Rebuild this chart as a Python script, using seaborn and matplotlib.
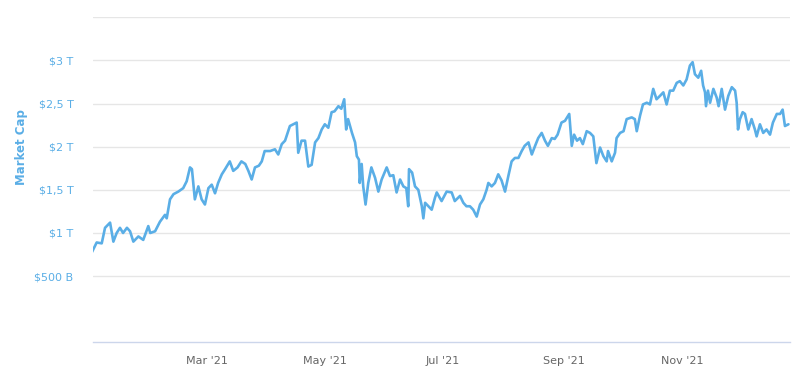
import pandas as pd
import seaborn as sns
import matplotlib.pyplot as plt
import matplotlib.dates as mdates

# Datos (días desde el 1 ene 2021, capitalización en billones USD)
dias = [0, 2.4, 5, 6.7, 9.3, 11, 12.7, 14.4, 16, 18, 19.6, 21.3, 23.9, 26.4, 29, 30,
        32.5, 35, 37.6, 38.5, 40.2, 42, 44.5, 47, 48.8, 50.5, 51.5, 53, 54.8, 56.5,
        58.2, 60, 61.7, 63.4, 65, 66.9, 68.6, 71, 72.8, 75, 77, 79, 80.6, 82.3, 84,
        86, 87.5, 89, 91.8, 94.3, 96, 97.8, 99.5, 102, 103.8, 105.5, 106.3, 108,
        109.8, 111.5, 113.2, 115, 116.7, 118.4, 120, 121.8, 123.5, 125, 127, 128.5,
        130, 131, 132, 134, 135.6, 136.5, 137.6, 138, 139, 139.8, 141, 142.4, 144,
        145.9, 147.6, 149.3, 151.9, 153.6, 155.3, 157, 158.8, 160.5, 162, 163, 163.4,
        165, 166.5, 168.2, 170, 170.8, 171.7, 173.4, 175.1, 176.8, 177.7, 180.2,
        182.8, 185.4, 187, 189.7, 191.4, 193, 194.8, 196.5, 198.3, 200, 201.7, 203.4,
        204.3, 206, 207.7, 209.4, 211.1, 212.9, 214.6, 216.3, 218, 219.8, 221.5, 223,
        225, 226.7, 228.4, 230, 231.8, 233.5, 235, 237, 238.5, 240, 242, 243.8, 246,
        247.3, 248.5, 250, 251.5, 253, 255, 256.7, 258.4, 260, 261.9, 263.6, 265.3,
        266, 267.9, 269.6, 270.4, 272.2, 274, 275.6, 278.2, 279.8, 280.8, 282.5, 284,
        286, 287.6, 289.3, 291, 292.8, 294.5, 296.2, 297.9, 299.6, 301.4, 303, 304.8,
        306.5, 308.2, 309.6, 310.8, 312.5, 314, 315, 316, 316.5, 317.5, 318.6, 320.3,
        322, 323, 324.6, 326.3, 328, 329.8, 331.5, 332.3, 333, 334, 335.4, 336.6,
        338.3, 340, 341.7, 342.6, 344.3, 346, 347.7, 349.5, 351, 353, 354.7, 356,
        357.2, 359]
market_cap = [0.78, 0.89, 0.88, 1.06, 1.12, 0.90, 1.00, 1.06, 1.00, 1.06, 1.02, 0.90,
              0.96, 0.92, 1.08, 1.00, 1.02, 1.13, 1.21, 1.17, 1.39, 1.45, 1.48, 1.52,
              1.60, 1.76, 1.74, 1.39, 1.54, 1.39, 1.33, 1.52, 1.56, 1.46, 1.58, 1.68,
              1.74, 1.83, 1.72, 1.76, 1.83, 1.80, 1.72, 1.62, 1.76, 1.78, 1.83, 1.95,
              1.95, 1.97, 1.91, 2.03, 2.07, 2.24, 2.26, 2.28, 1.93, 2.07, 2.07, 1.77,
              1.79, 2.05, 2.10, 2.20, 2.26, 2.22, 2.40, 2.41, 2.47, 2.44, 2.55, 2.20,
              2.32, 2.16, 2.05, 1.89, 1.85, 1.58, 1.80, 1.54, 1.33, 1.58, 1.76, 1.64,
              1.48, 1.62, 1.76, 1.66, 1.67, 1.47, 1.62, 1.54, 1.52, 1.31, 1.74, 1.70,
              1.54, 1.50, 1.31, 1.17, 1.35, 1.31, 1.27, 1.41, 1.47, 1.37, 1.48, 1.47,
              1.37, 1.43, 1.35, 1.31, 1.31, 1.27, 1.19, 1.33, 1.39, 1.50, 1.58, 1.54,
              1.58, 1.68, 1.61, 1.48, 1.66, 1.83, 1.87, 1.87, 1.95, 2.01, 2.05, 1.91,
              2.01, 2.10, 2.16, 2.07, 2.01, 2.10, 2.09, 2.14, 2.28, 2.30, 2.38, 2.01,
              2.14, 2.07, 2.10, 2.03, 2.18, 2.16, 2.12, 1.81, 1.99, 1.89, 1.83, 1.95,
              1.83, 1.93, 2.10, 2.16, 2.18, 2.32, 2.34, 2.32, 2.18, 2.36, 2.49, 2.51,
              2.49, 2.67, 2.55, 2.59, 2.63, 2.49, 2.65, 2.65, 2.74, 2.76, 2.71, 2.78,
              2.94, 2.98, 2.84, 2.80, 2.88, 2.71, 2.63, 2.47, 2.65, 2.51, 2.67, 2.57,
              2.47, 2.67, 2.43, 2.59, 2.69, 2.65, 2.51, 2.20, 2.32, 2.40, 2.38, 2.20,
              2.32, 2.20, 2.12, 2.26, 2.16, 2.20, 2.14, 2.28, 2.38, 2.38, 2.43, 2.24,
              2.26]

y_ticks = [0.5, 1, 1.5, 2, 2.5, 3, 3.5]
y_labels = ['\\$500 B', '\\$1 T', '\\$1,5 T', '\\$2 T', '\\$2,5 T', '\\$3 T', '']

inicio = pd.Timestamp('2021-01-01')
df = pd.DataFrame({
    'fecha': inicio + pd.to_timedelta(dias, unit='D'),
    'cap': market_cap,
})

azul = '#5aaee6'
sns.set_style('white')
plt.rcParams['font.family'] = ['DejaVu Sans']

fig = plt.figure(figsize=(8, 3.78), dpi=100)
ax = fig.add_axes([93 / 800, 1 - 341.7 / 378, 697 / 800, (341.7 - 17.3) / 378])

sns.lineplot(data=df, x='fecha', y='cap', ax=ax, color=azul, linewidth=1.9)

ax.set_ylim(-0.26, 3.5)
ax.set_xlim(inicio + pd.Timedelta(days=0.5), inicio + pd.Timedelta(days=359.8))
ax.set_yticks(y_ticks)
ax.set_yticklabels(y_labels)
ax.grid(axis='y', color='#e6e6e6', linewidth=1)
ax.set_axisbelow(True)

ax.xaxis.set_major_locator(mdates.MonthLocator(bymonth=[3, 5, 7, 9, 11]))
ax.xaxis.set_major_formatter(mdates.DateFormatter("%b '%y"))

ax.tick_params(axis='y', length=0, pad=14, labelsize=8, labelcolor=azul)
ax.tick_params(axis='x', length=7, width=1, color='#ccd6eb', pad=3,
               labelsize=8, labelcolor='#666666')
for s in ['top', 'right', 'left']:
    ax.spines[s].set_visible(False)
ax.spines['bottom'].set_color('#ccd6eb')
ax.spines['bottom'].set_linewidth(1)
ax.set_xlabel('')
ax.set_ylabel('')

fig.text(22 / 800, 1 - 147 / 378, 'Market Cap', rotation=90, ha='center', va='center',
         color=azul, fontsize=8.5, fontweight='bold')

plt.savefig('out.png', dpi=100)
